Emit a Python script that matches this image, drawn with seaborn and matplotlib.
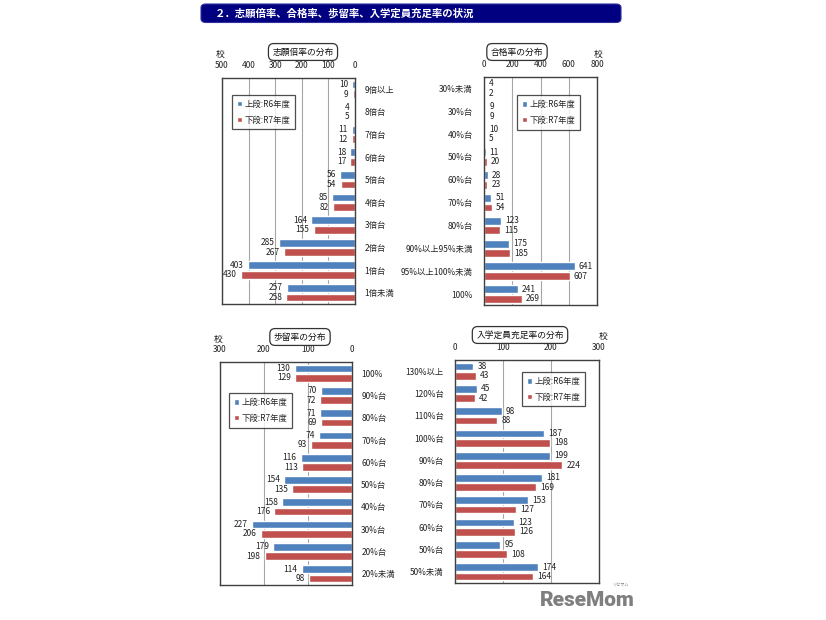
import matplotlib
matplotlib.use("Agg")
import matplotlib.pyplot as plt
import seaborn as sns
import pandas as pd
from matplotlib.patches import FancyBboxPatch

sns.set_theme(style="white")
plt.rcParams['font.family'] = ['Noto Sans CJK JP', 'DejaVu Sans']

# ---------------- data ----------------
LBL_R6 = "上段:R6年度"
LBL_R7 = "下段:R7年度"

shigan_cats = ["9倍以上", "8倍台", "7倍台", "6倍台", "5倍台", "4倍台", "3倍台", "2倍台", "1倍台", "1倍未満"]
shigan_r6 = [10, 4, 11, 18, 56, 85, 164, 285, 403, 257]
shigan_r7 = [9, 5, 12, 17, 54, 82, 155, 267, 430, 258]

goukaku_cats = ["30%未満", "30%台", "40%台", "50%台", "60%台", "70%台", "80%台",
                "90%以上95%未満", "95%以上100%未満", "100%"]
goukaku_r6 = [4, 9, 10, 11, 28, 51, 123, 175, 641, 241]
goukaku_r7 = [2, 9, 5, 20, 23, 54, 115, 185, 607, 269]

budomari_cats = ["100%", "90%台", "80%台", "70%台", "60%台", "50%台", "40%台", "30%台", "20%台", "20%未満"]
budomari_r6 = [130, 70, 71, 74, 116, 154, 158, 227, 179, 114]
budomari_r7 = [129, 72, 69, 93, 113, 135, 176, 206, 198, 98]

juusoku_cats = ["130%以上", "120%台", "110%台", "100%台", "90%台", "80%台", "70%台", "60%台", "50%台", "50%未満"]
juusoku_r6 = [38, 45, 98, 187, 199, 181, 153, 123, 95, 174]
juusoku_r7 = [43, 42, 88, 198, 224, 169, 127, 126, 108, 164]

shigan_ticks = [500, 400, 300, 200, 100, 0]
goukaku_ticks = [0, 200, 400, 600, 800]
budomari_ticks = [300, 200, 100, 0]
juusoku_ticks = [0, 100, 200, 300]

TITLE = "２．志願倍率、合格率、歩留率、入学定員充足率の状況"
panel_titles = ["志願倍率の分布", "合格率の分布", "歩留率の分布", "入学定員充足率の分布"]
UNIT = "校"

BLUE = "#4F81BD"
RED = "#C0504D"

W, H = 826, 620
fig = plt.figure(figsize=(W / 100, H / 100), dpi=100)
fig.patch.set_facecolor("white")


def fx(px):
    return px / W


def fy(py):
    return 1 - py / H


def make_df(cats, r6, r7):
    return pd.DataFrame({
        "cat": cats + cats,
        "val": r6 + r7,
        "year": [LBL_R6] * len(cats) + [LBL_R7] * len(cats),
    })


def panel(rect_px, cats, r6, r7, ticks, mirrored, legend_anchor):
    l, t, r, b = rect_px
    ax = fig.add_axes([fx(l), fy(b), (r - l) / W, (b - t) / H])
    df = make_df(cats, r6, r7)
    sns.barplot(data=df, y="cat", x="val", hue="year", order=cats,
                hue_order=[LBL_R6, LBL_R7], palette=[BLUE, RED],
                orient="h", width=0.84, gap=0.18, ax=ax, legend=True,
                saturation=1, errorbar=None)
    lo, hi = min(ticks), max(ticks)
    if mirrored:
        ax.set_xlim(hi, lo)
        ax.yaxis.tick_right()
        ax.tick_params(axis="y", pad=7)
        for lab in ax.get_yticklabels():
            lab.set_ha("left")
    else:
        ax.set_xlim(lo, hi)
        ax.tick_params(axis="y", pad=8)
    ax.set_ylim(len(cats) - 0.5, -0.5)
    ax.set_xticks(ticks)
    ax.set_xticklabels([str(v) for v in ticks])
    ax.xaxis.tick_top()
    ax.tick_params(axis="x", length=0, pad=6, labelsize=6, colors="#222222")
    ax.tick_params(axis="y", length=0, labelsize=6, colors="#222222")
    ax.set_xlabel("")
    ax.set_ylabel("")
    ax.grid(axis="x", color="#A6A6A6", linewidth=0.8)
    ax.set_axisbelow(True)
    for s in ax.spines.values():
        s.set_visible(True)
        s.set_color("#404040")
        s.set_linewidth(1.0)
    for c in ax.containers:
        ax.bar_label(c, fmt="%d", padding=3, fontsize=6, color="#222222")
    h, lab = ax.get_legend_handles_labels()
    leg = ax.legend(h, lab, loc="upper left", bbox_to_anchor=legend_anchor,
                    borderaxespad=0, fontsize=6, frameon=True, fancybox=False,
                    handlelength=0.6, handleheight=0.6, handletextpad=0.3,
                    labelspacing=0.8, borderpad=0.6)
    leg.get_frame().set_edgecolor("#222222")
    leg.get_frame().set_linewidth(0.9)
    return ax


panel((222, 78, 355, 304), shigan_cats, shigan_r6, shigan_r7, shigan_ticks, True, (0.075, 0.926))
panel((484, 77, 597, 305.5), goukaku_cats, goukaku_r6, goukaku_r7, goukaku_ticks, False, (0.29, 0.921))
panel((220, 362, 351.5, 585), budomari_cats, budomari_r6, budomari_r7, budomari_ticks, True, (0.068, 0.861))
panel((455, 360, 598.5, 583), juusoku_cats, juusoku_r6, juusoku_r7, juusoku_ticks, False, (0.465, 0.947))

# panel titles in rounded boxes
title_pos = [(303, 52), (517, 52), (300, 337), (520, 335)]
for (px, py), txt in zip(title_pos, panel_titles):
    fig.text(fx(px), fy(py), txt, ha="center", va="center", fontsize=6.3, color="#111111",
             bbox=dict(boxstyle="round,pad=0.45,rounding_size=0.6", fc="white", ec="#333333", lw=0.9))

# unit labels
for px, py in [(220, 54), (598, 54), (218, 339), (603, 336)]:
    fig.text(fx(px), fy(py), UNIT, ha="center", va="center", fontsize=6.3, color="#111111")

# title bar
bar = FancyBboxPatch((fx(201), fy(22.5)), fx(621) - fx(201), fy(4) - fy(22.5),
                     boxstyle="round,pad=0,rounding_size=0.006", transform=fig.transFigure,
                     fc="#000080", ec="#3030A0", lw=0.8)
fig.patches.append(bar)
fig.text(fx(215), fy(13.5), TITLE, ha="left", va="center", fontsize=7.5,
         fontweight="bold", color="white")

# logo
fig.text(fx(540), fy(600), "ReseMom", ha="left", va="center", fontsize=15,
         fontweight="heavy", color="#7F7F7F", family=["Roboto", "DejaVu Sans"])
fig.text(fx(620), fy(585), "リセマム", ha="center", va="center", fontsize=3,
         color="#7F7F7F")

fig.savefig("out.png", dpi=100)
